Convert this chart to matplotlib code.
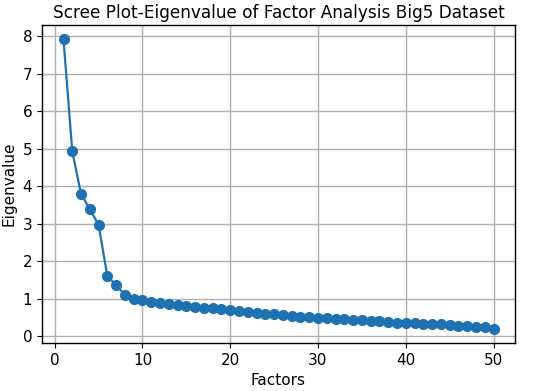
import matplotlib
matplotlib.use("Agg")
import matplotlib.pyplot as plt

factors = list(range(1, 51))
eigenvalues = [7.91, 4.93, 3.79, 3.39, 2.97, 1.60, 1.37, 1.10, 1.01, 0.96,
               0.92, 0.89, 0.87, 0.84, 0.81, 0.79, 0.77, 0.75, 0.73, 0.70,
               0.67, 0.65, 0.63, 0.61, 0.59, 0.57, 0.55, 0.53, 0.52, 0.50,
               0.49, 0.47, 0.46, 0.44, 0.43, 0.42, 0.40, 0.39, 0.37, 0.36,
               0.35, 0.34, 0.33, 0.32, 0.30, 0.29, 0.27, 0.26, 0.24, 0.21]

fig = plt.figure(figsize=(5.36, 3.91), dpi=100)
ax = fig.add_axes([42/536, 1 - 343/391, (515-42)/536, (343-25)/391])
ax.plot(factors, eigenvalues, marker='o', color='#1f72b2', markersize=7, linewidth=1.6)
ax.set_title('Scree Plot-Eigenvalue of Factor Analysis Big5 Dataset', fontsize=12.2, pad=5)
ax.set_xlabel('Factors', fontsize=11)
ax.set_ylabel('Eigenvalue', fontsize=11)
ax.tick_params(labelsize=11)
ax.set_xticks([0, 10, 20, 30, 40, 50])
ax.set_yticks(range(0, 9))
ax.grid(True, color='#b0b0b0', linewidth=1.0)
for s in ax.spines.values():
    s.set_linewidth(1.0)
fig.savefig('out.png', dpi=100)
